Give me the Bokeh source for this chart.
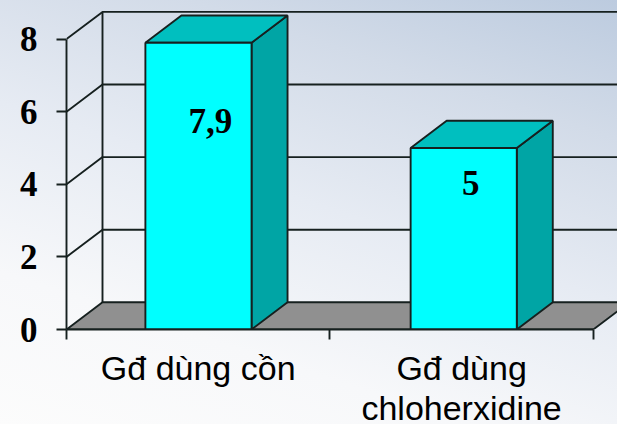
from bokeh.plotting import figure
from bokeh.models import LinearAxis, FixedTicker, Range1d
from bokeh.core.properties import value
from bokeh.embed import file_html
from bokeh.resources import INLINE

categories = ["Gđ dùng cồn", "Gđ dùng\nchloherxidine"]
values = [7.9, 5]
value_labels = ["7,9", "5"]
y_ticks = [0, 2, 4, 6, 8]

# style / layout
W, H = 617, 424
LEFT, BOTTOM = 66, 95
XMAX = (W - LEFT) / 263.4
YMAX = (H - BOTTOM) / 36.3
DX, DY = 36 / 263.4, 27.2 / 36.3
BAR_W = 0.403
BAR_SHIFT = [0.001, 0.008]
LABEL_DX = [12, 7]
LABEL_DY = [78, 35]
EDGE = "#16201f"
LW = 1.9

p = figure(width=W, height=H, output_backend="svg", toolbar_location=None,
           x_range=Range1d(0, XMAX), y_range=Range1d(0, YMAX),
           x_axis_type=None, y_axis_type=None,
           min_border_left=LEFT, min_border_bottom=BOTTOM, min_border_top=0, min_border_right=0,
           frame_width=W - LEFT, frame_height=H - BOTTOM,
           styles={"background": "linear-gradient(198deg, #bccbdf 0%, #d2dbe8 22%, #e6ebf3 48%, #f7f8fa 75%, #fcfcfc 100%)"})
p.background_fill_alpha = 0
p.border_fill_alpha = 0
p.outline_line_alpha = 0
p.grid.visible = False

# Floor
n = len(categories)
p.patch([0, n, n + DX, DX], [0, 0, DY, DY], fill_color="#909090", line_color=EDGE, line_width=LW)

# Walls and gridlines
p.line([DX, DX], [DY, y_ticks[-1] + DY], line_color=EDGE, line_width=LW)
for t in y_ticks[1:]:
    p.line([0, DX, n + DX], [t, t + DY, t + DY], line_color=EDGE, line_width=LW)

# Bars
for i, v in enumerate(values):
    x0 = i + 0.5 + BAR_SHIFT[i] - BAR_W / 2
    x1 = x0 + BAR_W
    p.patch([x1, x1 + DX, x1 + DX, x1], [0, DY, v + DY, v], fill_color="#00A5A5", line_color=EDGE, line_width=LW)
    p.patch([x0, x1, x1 + DX, x0 + DX], [v, v, v + DY, v + DY], fill_color="#00BFBF", line_color=EDGE, line_width=LW)
    p.quad(left=x0, right=x1, bottom=0, top=v, fill_color="#00FFFF", line_color=EDGE, line_width=LW)
    p.text([i + 0.5 + BAR_SHIFT[i]], [v], text=[value_labels[i]], x_offset=LABEL_DX[i], y_offset=LABEL_DY[i],
           text_align="center", text_baseline="middle", text_font=value("Liberation Serif"),
           text_font_style="bold", text_font_size="35px", text_color="#000000")

# Axes
ya = LinearAxis(ticker=FixedTicker(ticks=y_ticks), bounds=(0, y_ticks[-1]))
ya.major_tick_in = 0
ya.major_tick_out = 10
ya.minor_tick_out = 0
ya.minor_tick_in = 0
ya.major_label_standoff = 19
ya.major_label_text_font = "Liberation Serif"
ya.major_label_text_font_style = "bold"
ya.major_label_text_font_size = "35px"
ya.major_label_text_color = "#000000"
ya.axis_line_color = EDGE
ya.axis_line_width = LW
ya.major_tick_line_color = EDGE
ya.major_tick_line_width = LW
p.add_layout(ya, "left")

xa = LinearAxis(ticker=FixedTicker(ticks=[i + 0.5 for i in range(n)], minor_ticks=list(range(n + 1))),
                bounds=(0, n))
xa.major_label_overrides = {i + 0.5: c for i, c in enumerate(categories)}
xa.major_tick_in = 0
xa.major_tick_out = 0
xa.minor_tick_in = 0
xa.minor_tick_out = 10
xa.major_label_standoff = 9
xa.major_label_text_font = "Liberation Sans"
xa.major_label_text_font_size = "34px"
xa.major_label_text_line_height = 1.06
xa.major_label_text_color = "#000000"
xa.axis_line_color = EDGE
xa.axis_line_width = LW
xa.minor_tick_line_color = EDGE
xa.minor_tick_line_width = LW
p.add_layout(xa, "below")

open("out.html", "w").write(file_html(p, INLINE))
